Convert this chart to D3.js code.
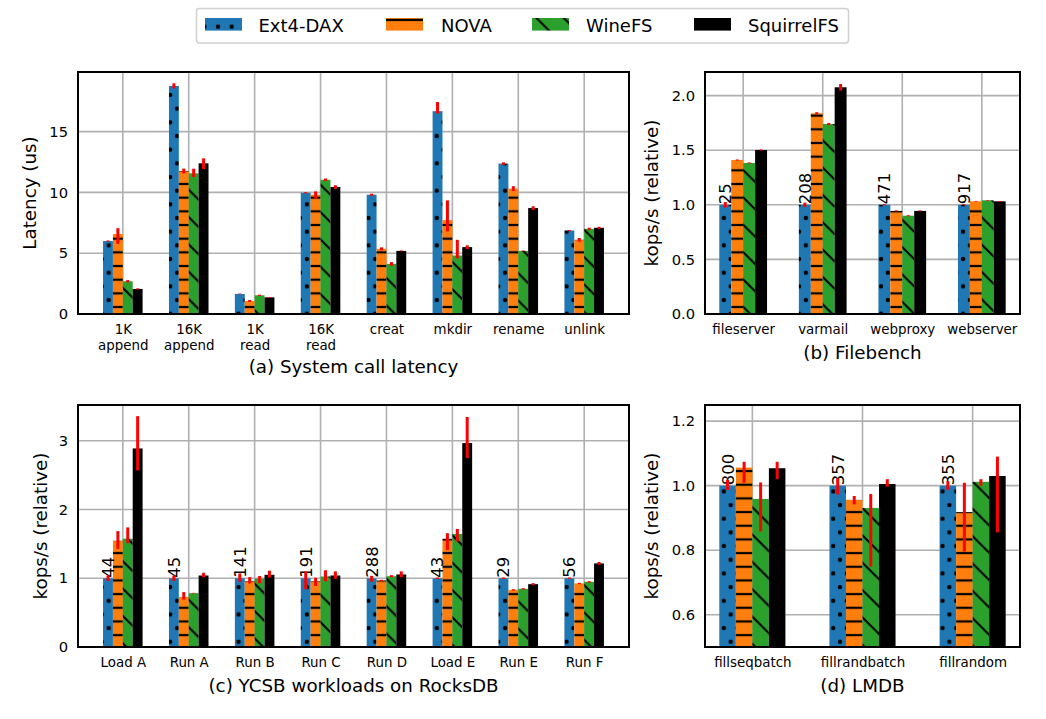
<!DOCTYPE html>
<html>
<head>
<meta charset="utf-8">
<script src="https://cdn.jsdelivr.net/npm/d3@7"></script>
<style>
  body { margin: 0; background: #fff; }
  text { font-family: "DejaVu Sans", sans-serif; fill: #000; }
</style>
</head>
<body>
<svg id="chart" width="1046" height="719"></svg>
<script>
const seriesNames = ["Ext4-DAX", "NOVA", "WineFS", "SquirrelFS"];

// (a) system call latency, in us
const syscallCats = [["1K", "append"], ["16K", "append"], ["1K", "read"], ["16K", "read"], ["creat"], ["mkdir"], ["rename"], ["unlink"]];
const syscallTicks = [0, 5, 10, 15];
const syscallVals = [
  [6.0, 18.75, 1.65, 9.97, 9.81, 16.68, 12.37, 6.87],
  [6.58, 11.76, 1.07, 9.81, 5.36, 7.72, 10.31, 6.1],
  [2.69, 11.57, 1.54, 11.04, 4.12, 4.81, 5.19, 7.0],
  [2.06, 12.39, 1.37, 10.44, 5.19, 5.5, 8.71, 7.09]
];
const syscallErrs = [
  [[0.05, 0.05], [0.2, 0.22], [0.03, 0.03], [0.05, 0.05], [0.08, 0.08], [0.19, 0.75], [0.1, 0.1], [0.04, 0.04]],
  [[0.81, 0.48], [0.2, 0.2], [0.08, 0.08], [0.33, 0.27], [0.12, 0.12], [0.93, 1.62], [0.2, 0.2], [0.15, 0.15]],
  [[0.1, 0.1], [0.31, 0.38], [0.05, 0.05], [0.1, 0.1], [0.15, 0.15], [0.22, 1.29], [0.03, 0.03], [0.1, 0.1]],
  [[0.05, 0.05], [0.47, 0.41], [0.03, 0.03], [0.15, 0.15], [0.03, 0.03], [0.15, 0.15], [0.15, 0.15], [0.08, 0.08]]
];

// (b) filebench, relative kops/s
const fileCats = [["fileserver"], ["varmail"], ["webproxy"], ["webserver"]];
const fileTicks = [0, 0.5, 1.0, 1.5, 2.0];
const fileLabels = ["25", "208", "471", "917"];
const fileVals = [
  [1.0, 1.0, 1.0, 1.0],
  [1.41, 1.838, 0.944, 1.032],
  [1.383, 1.74, 0.90, 1.041],
  [1.502, 2.076, 0.944, 1.032]
];
const fileErrs = [
  [[0.025, 0.025], [0.02, 0.02], [0.005, 0.005], [0.005, 0.005]],
  [[0.005, 0.005], [0.01, 0.01], [0.005, 0.005], [0.003, 0.003]],
  [[0.005, 0.005], [0.01, 0.01], [0.005, 0.005], [0.003, 0.003]],
  [[0.005, 0.005], [0.03, 0.03], [0.005, 0.005], [0.003, 0.003]]
];

// (c) YCSB on RocksDB, relative kops/s
const ycsbCats = [["Load A"], ["Run A"], ["Run B"], ["Run C"], ["Run D"], ["Load E"], ["Run E"], ["Run F"]];
const ycsbTicks = [0, 1, 2, 3];
const ycsbLabels = ["44", "45", "141", "191", "288", "43", "29", "56"];
const ycsbVals = [
  [1.0, 1.0, 1.0, 1.0, 1.0, 1.0, 1.0, 1.0],
  [1.546, 0.729, 0.958, 0.958, 0.967, 1.575, 0.831, 0.924],
  [1.575, 0.783, 0.997, 1.026, 1.03, 1.643, 0.846, 0.948],
  [2.888, 1.04, 1.05, 1.04, 1.055, 2.966, 0.914, 1.216]
];
const ycsbErrs = [
  [[0.04, 0.04], [0.04, 0.04], [0.05, 0.07], [0.16, 0.1], [0.05, 0.035], [0.01, 0.01], [0.01, 0.01], [0.01, 0.01]],
  [[0.12, 0.14], [0.04, 0.07], [0.034, 0.058], [0.07, 0.05], [0.01, 0.01], [0.165, 0.08], [0.01, 0.01], [0.01, 0.01]],
  [[0.065, 0.165], [0.005, 0.005], [0.07, 0.035], [0.07, 0.09], [0.015, 0.015], [0.11, 0.075], [0.01, 0.01], [0.01, 0.01]],
  [[0.32, 0.47], [0.025, 0.04], [0.04, 0.06], [0.05, 0.06], [0.04, 0.045], [0.22, 0.38], [0.015, 0.015], [0.02, 0.02]]
];

// (d) LMDB, relative kops/s
const lmdbCats = [["fillseqbatch"], ["fillrandbatch"], ["fillrandom"]];
const lmdbTicks = [0.6, 0.8, 1.0, 1.2];
const lmdbLabels = ["800", "357", "355"];
const lmdbVals = [
  [1.0, 1.0, 1.0],
  [1.056, 0.956, 0.918],
  [0.959, 0.931, 1.012],
  [1.054, 1.005, 1.03]
];
const lmdbErrs = [
  [[0.013, 0.018], [0.027, 0.023], [0.013, 0.014]],
  [[0.047, 0.018], [0.014, 0.012], [0.122, 0.091]],
  [[0.101, 0.051], [0.182, 0.043], [0.012, 0.008]],
  [[0.034, 0.02], [0.008, 0.015], [0.175, 0.06]]
];

const svg = d3.select("#chart");
const defs = svg.append("defs");
const HS = 13.67;

// hatches, anchored to the page like matplotlib does
const pDots = defs.append("pattern")
  .attr("id", "hatchDots")
  .attr("patternUnits", "userSpaceOnUse")
  .attr("x", -0.7).attr("y", -0.7)
  .attr("width", HS).attr("height", 2 * HS);
pDots.append("rect").attr("width", HS).attr("height", 2 * HS).attr("fill", "#1f77b4");
[[0, 0], [HS, 0], [0, 2 * HS], [HS, 2 * HS], [HS / 2, HS]].forEach(([cx, cy]) => {
  pDots.append("circle").attr("cx", cx).attr("cy", cy).attr("r", 2.2).attr("fill", "#000");
});

const pLines = defs.append("pattern")
  .attr("id", "hatchLines")
  .attr("patternUnits", "userSpaceOnUse")
  .attr("x", 0).attr("y", 6.3)
  .attr("width", 20).attr("height", HS);
pLines.append("rect").attr("width", 20).attr("height", HS).attr("fill", "#ff7f0e");
pLines.append("rect").attr("y", 0).attr("width", 20).attr("height", 1.1).attr("fill", "#000");
pLines.append("rect").attr("y", HS - 1.1).attr("width", 20).attr("height", 1.1).attr("fill", "#000");

const T = 2 * HS;
const pDiag = defs.append("pattern")
  .attr("id", "hatchDiag")
  .attr("patternUnits", "userSpaceOnUse")
  .attr("x", 0).attr("y", 1)
  .attr("width", T).attr("height", T);
pDiag.append("rect").attr("width", T).attr("height", T).attr("fill", "#2ca02c");
pDiag.append("path")
  .attr("d", `M-2,-2L${T + 2},${T + 2}M-2,${T - 2}L2,${T + 2}M${T - 2},-2L${T + 2},2`)
  .attr("stroke", "#000").attr("stroke-width", 2).attr("fill", "none");

const fills = ["url(#hatchDots)", "url(#hatchLines)", "url(#hatchDiag)", "#000"];

function panel(opt) {
  const { left, right, top, bottom, cats, vals, errs, yDomain, ticks, fmt, labels } = opt;
  const n = cats.length;
  const m = 0.05 * (n - 1 + 0.6);
  const x = d3.scaleLinear().domain([-0.3 - m, n - 1 + 0.3 + m]).range([left, right]);
  const y = d3.scaleLinear().domain(yDomain).range([bottom, top]);
  const g = svg.append("g");

  // grid
  g.selectAll("line.gy").data(ticks).join("line")
    .attr("x1", left).attr("x2", right)
    .attr("y1", d => y(d)).attr("y2", d => y(d))
    .attr("stroke", "#b0b0b0").attr("stroke-width", 1.6);
  g.selectAll("line.gx").data(d3.range(n)).join("line")
    .attr("x1", d => x(d)).attr("x2", d => x(d))
    .attr("y1", top).attr("y2", bottom)
    .attr("stroke", "#b0b0b0").attr("stroke-width", 1.6);

  const bw = x(0.15) - x(0);
  vals.forEach((series, s) => {
    const off = (s - 1.5) * 0.15;
    g.append("g").selectAll("rect").data(series).join("rect")
      .attr("x", (d, i) => x(i + off) - bw / 2)
      .attr("width", bw)
      .attr("y", d => y(d))
      .attr("height", d => y(yDomain[0]) - y(d))
      .attr("fill", fills[s]);
  });

  if (labels) {
    g.append("g").selectAll("text").data(labels).join("text")
      .attr("transform", (d, i) => `translate(${x(i - 0.225)},${y(vals[0][i]) - 0.5}) rotate(-90)`)
      .attr("dy", "0.36em")
      .style("font-size", "16.5px")
      .text(d => d);
  }

  vals.forEach((series, s) => {
    const off = (s - 1.5) * 0.15;
    g.append("g").selectAll("line").data(series).join("line")
      .attr("x1", (d, i) => x(i + off)).attr("x2", (d, i) => x(i + off))
      .attr("y1", (d, i) => y(d - errs[s][i][0]))
      .attr("y2", (d, i) => y(d + errs[s][i][1]))
      .attr("stroke", "#ff0000").attr("stroke-width", 3);
  });

  // axes
  const ya = g.append("g").attr("transform", `translate(${left},0)`)
    .call(d3.axisLeft(y).tickValues(ticks).tickSize(0).tickPadding(10).tickFormat(fmt));
  ya.select(".domain").remove();
  ya.attr("font-family", null).attr("font-size", null);
  ya.selectAll("text").style("font-size", "14.7px");

  const xa = g.append("g").attr("transform", `translate(0,${bottom})`)
    .call(d3.axisBottom(x).tickValues(d3.range(n)).tickSize(0).tickPadding(10.5).tickFormat(""));
  xa.select(".domain").remove();
  xa.attr("font-family", null).attr("font-size", null);
  xa.selectAll(".tick text").each(function (d) {
    const t = d3.select(this).style("font-size", "13.4px");
    cats[d].forEach((line, k) => {
      const ts = t.append("tspan").attr("x", 0).text(line);
      if (k > 0) ts.attr("dy", "1.16em");
    });
  });

  g.append("rect")
    .attr("x", left).attr("y", top)
    .attr("width", right - left).attr("height", bottom - top)
    .attr("fill", "none").attr("stroke", "#000").attr("stroke-width", 2);

  g.append("text")
    .attr("transform", `translate(${opt.ylabelX},${(top + bottom) / 2}) rotate(-90)`)
    .attr("text-anchor", "middle").attr("dy", "0.3em")
    .style("font-size", "18.3px")
    .text(opt.ylabel);

  g.append("text")
    .attr("x", (left + right) / 2).attr("y", opt.captionY)
    .attr("text-anchor", "middle")
    .style("font-size", "18.3px")
    .text(opt.caption);
}

panel({
  left: 78, right: 629, top: 72, bottom: 314,
  cats: syscallCats, vals: syscallVals, errs: syscallErrs,
  yDomain: [0, 19.9], ticks: syscallTicks, fmt: d3.format("d"),
  ylabel: "Latency (us)", ylabelX: 30.5,
  caption: "(a) System call latency", captionY: 373
});
panel({
  left: 705, right: 1020, top: 72, bottom: 314,
  cats: fileCats, vals: fileVals, errs: fileErrs, labels: fileLabels,
  yDomain: [0, 2.216], ticks: fileTicks, fmt: d3.format(".1f"),
  ylabel: "kops/s (relative)", ylabelX: 652,
  caption: "(b) Filebench", captionY: 359
});
panel({
  left: 78, right: 629, top: 405, bottom: 647,
  cats: ycsbCats, vals: ycsbVals, errs: ycsbErrs, labels: ycsbLabels,
  yDomain: [0, 3.52], ticks: ycsbTicks, fmt: d3.format("d"),
  ylabel: "kops/s (relative)", ylabelX: 41,
  caption: "(c) YCSB workloads on RocksDB", captionY: 692
});
panel({
  left: 705, right: 1020, top: 405, bottom: 647,
  cats: lmdbCats, vals: lmdbVals, errs: lmdbErrs, labels: lmdbLabels,
  yDomain: [0.5, 1.25], ticks: lmdbTicks, fmt: d3.format(".1f"),
  ylabel: "kops/s (relative)", ylabelX: 652,
  caption: "(d) LMDB", captionY: 692
});

// legend
const legend = svg.append("g");
legend.append("rect")
  .attr("x", 196.5).attr("y", 8.5).attr("width", 652).attr("height", 34.5)
  .attr("rx", 3).attr("fill", "#fff").attr("stroke", "#d0d0d0").attr("stroke-width", 1.5);
const legendPatchX = [205, 386, 532, 694];
const legendTextX = [258.5, 441, 586, 748];
seriesNames.forEach((name, s) => {
  legend.append("rect")
    .attr("x", legendPatchX[s]).attr("y", 18)
    .attr("width", 37).attr("height", 12.6)
    .attr("fill", fills[s]);
  legend.append("text")
    .attr("x", legendTextX[s]).attr("y", 31.5)
    .style("font-size", "18px")
    .text(name);
});
</script>
</body>
</html>
